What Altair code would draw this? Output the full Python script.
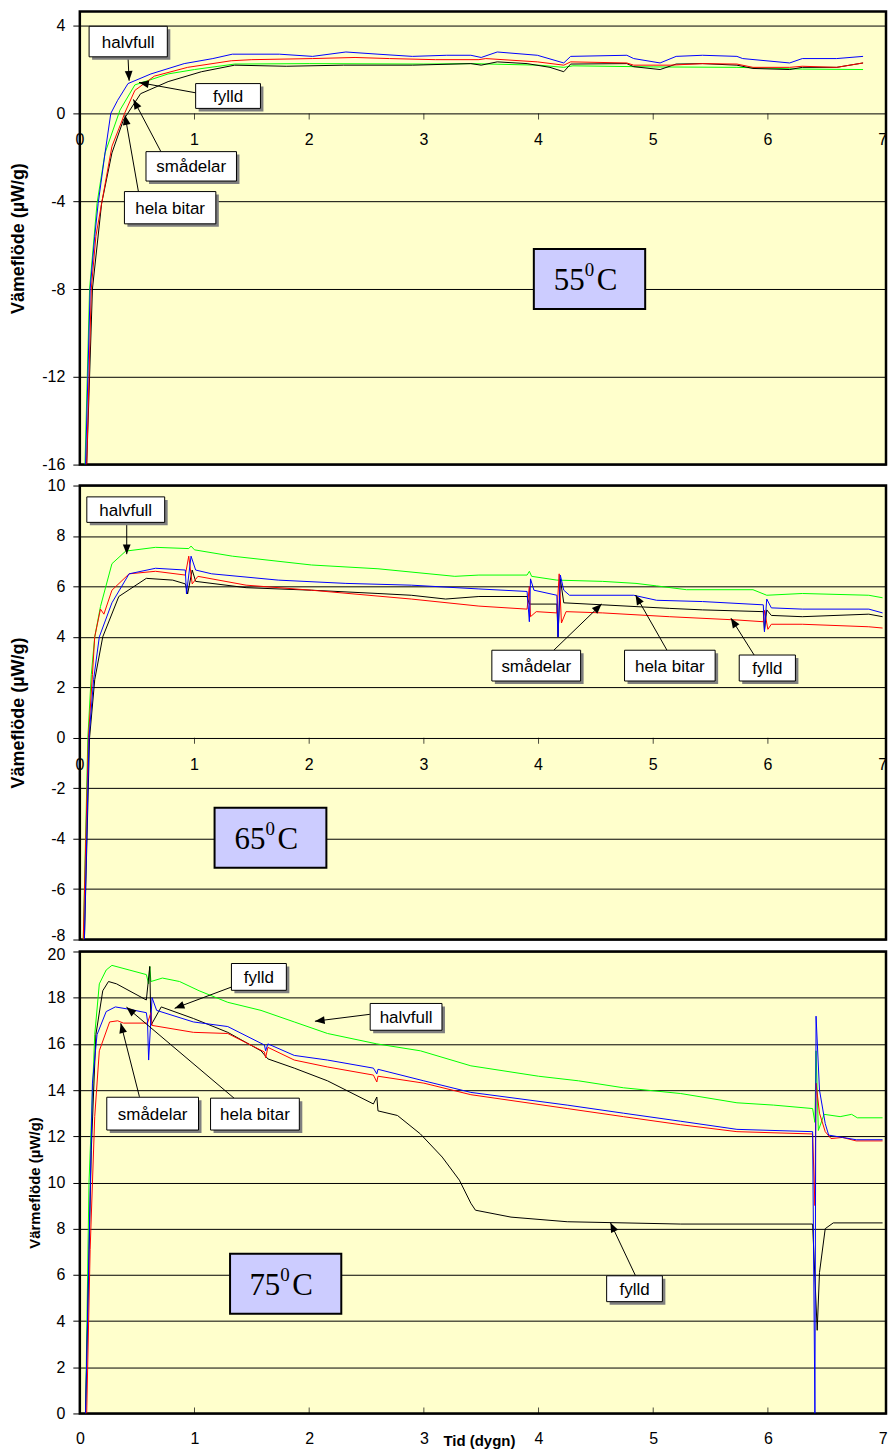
import math
import altair as alt
import pandas as pd

FONT = "Liberation Sans"
SERIF = "Liberation Serif"

X_TICKS = [0, 1, 2, 3, 4, 5, 6, 7]
X_MAX = 7.03
PLOT_W = 808
SERIES = ["halvfull", "fylld", "smådelar", "hela bitar"]

# ---------------- 55 °C ----------------
Y55_TICKS = [-16, -12, -8, -4, 0, 4]
T55_HALVFULL = [(0.045, -16), (0.065, -12), (0.085, -8), (0.15, -4.1), (0.22, -1.8), (0.35, 0.15),
                (0.48, 1.3), (0.77, 1.8), (1.0, 2.0), (1.35, 2.25), (2.0, 2.27), (3.0, 2.25),
                (3.41, 2.27), (4.0, 2.2), (4.22, 2.1), (4.3, 2.17), (5.0, 2.12), (5.73, 2.1),
                (6.3, 2.02), (6.83, 2.0)]
T55_FYLLD = [(0.06, -16), (0.085, -12), (0.11, -8), (0.19, -4.1), (0.28, -1.8), (0.38, -0.3),
             (0.53, 0.9), (0.77, 1.45), (1.06, 1.9), (1.35, 2.2), (1.8, 2.15), (2.3, 2.2),
             (2.9, 2.2), (3.41, 2.27), (3.5, 2.2), (3.64, 2.35), (3.9, 2.27), (4.1, 2.1),
             (4.22, 1.9), (4.28, 2.25), (4.77, 2.27), (4.83, 2.13), (5.06, 2.0), (5.2, 2.25),
             (5.43, 2.27), (5.73, 2.2), (5.87, 2.05), (6.19, 2.0), (6.3, 2.1), (6.6, 2.1),
             (6.83, 2.3)]
T55_SMADELAR = [(0.06, -16), (0.08, -12), (0.1, -8), (0.14, -5.6), (0.19, -4.1), (0.28, -1.5),
                (0.37, -0.3), (0.39, 0.0), (0.48, 1.05), (0.65, 1.7), (0.94, 2.1), (1.32, 2.4),
                (1.5, 2.45), (2.03, 2.5), (2.4, 2.55), (2.7, 2.5), (3.1, 2.45), (3.48, 2.45),
                (3.54, 2.5), (3.99, 2.35), (4.22, 2.2), (4.28, 2.35), (4.77, 2.3), (4.83, 2.2),
                (5.15, 2.2), (5.43, 2.27), (5.73, 2.25), (5.87, 2.1), (6.19, 2.1), (6.3, 2.15),
                (6.6, 2.1), (6.83, 2.3)]
T55_HELA = [(0.05, -16), (0.07, -12), (0.09, -8), (0.13, -5.6), (0.16, -4.1), (0.22, -1.8),
            (0.27, 0.0), (0.33, 0.6), (0.42, 1.36), (0.62, 1.8), (0.91, 2.27), (1.16, 2.5),
            (1.33, 2.7), (1.74, 2.7), (2.03, 2.6), (2.32, 2.8), (2.6, 2.7), (2.9, 2.6),
            (3.2, 2.65), (3.41, 2.65), (3.5, 2.55), (3.64, 2.8), (3.99, 2.65), (4.22, 2.3),
            (4.28, 2.6), (4.77, 2.65), (4.83, 2.5), (5.06, 2.3), (5.2, 2.6), (5.43, 2.65),
            (5.73, 2.6), (5.78, 2.5), (6.19, 2.3), (6.3, 2.5), (6.6, 2.5), (6.83, 2.6)]

# ---------------- 65 °C ----------------
Y65_TICKS = [-8, -6, -4, -2, 0, 2, 4, 6, 8, 10]
T65_HALVFULL = [(0.03, -8), (0.07, 0), (0.1, 2.5), (0.13, 4.0), (0.18, 5.2), (0.28, 6.9),
                (0.40, 7.4), (0.66, 7.55), (0.95, 7.5), (0.97, 7.6), (1.0, 7.45), (1.33, 7.2),
                (2.02, 6.85), (2.6, 6.7), (3.27, 6.4), (3.48, 6.45), (3.9, 6.45), (3.92, 6.6),
                (3.94, 6.4), (4.16, 6.25), (4.56, 6.2), (4.85, 6.12), (5.03, 6.02), (5.29, 5.87),
                (5.87, 5.87), (5.99, 5.65), (6.3, 5.72), (6.88, 5.65), (7.0, 5.55)]
T65_FYLLD = [(0.04, -8), (0.085, 0), (0.13, 2.3), (0.2, 4.0), (0.34, 5.6), (0.58, 6.32),
             (0.81, 6.25), (0.92, 6.1), (0.94, 5.7), (0.98, 6.65), (1.01, 6.2), (1.45, 5.95),
             (2.02, 5.85), (2.6, 5.72), (2.89, 5.65), (3.19, 5.5), (3.48, 5.6), (3.9, 5.6),
             (3.92, 5.3), (4.16, 5.3), (4.17, 4.0), (4.19, 6.3), (4.22, 5.35), (4.56, 5.27),
             (5.14, 5.13), (5.43, 5.07), (5.96, 5.0), (5.97, 4.25), (5.99, 5.07), (6.03, 4.85),
             (6.3, 4.8), (6.88, 4.9), (7.0, 4.8)]
T65_SMADELAR = [(0.03, -8), (0.075, 0), (0.11, 2.5), (0.13, 4.0), (0.18, 5.1), (0.21, 4.9),
                (0.28, 5.85), (0.43, 6.5), (0.66, 6.6), (0.92, 6.45), (0.95, 7.2), (0.98, 6.1),
                (1.03, 6.4), (1.45, 6.05), (2.02, 5.85), (2.89, 5.5), (3.48, 5.22), (3.9, 5.1),
                (3.92, 6.0), (3.93, 4.8), (3.98, 5.0), (4.16, 4.95), (4.18, 6.5), (4.2, 4.55),
                (4.24, 5.0), (4.56, 4.95), (5.14, 4.8), (5.73, 4.67), (5.96, 4.6), (5.97, 5.05),
                (6.0, 4.3), (6.03, 4.5), (6.3, 4.5), (6.88, 4.4), (7.0, 4.35)]
T65_HELA = [(0.04, -8), (0.08, 0), (0.12, 2.3), (0.17, 4.0), (0.28, 5.35), (0.43, 6.5),
            (0.66, 6.72), (0.92, 6.65), (0.93, 5.7), (0.97, 7.2), (1.01, 6.65), (1.15, 6.5),
            (1.73, 6.25), (2.32, 6.12), (2.89, 6.05), (3.48, 5.9), (3.9, 5.8), (3.92, 4.6),
            (3.93, 6.3), (3.96, 5.85), (4.16, 5.65), (4.17, 4.0), (4.19, 6.45), (4.22, 5.85),
            (4.27, 5.65), (4.83, 5.65), (5.03, 5.45), (5.43, 5.4), (5.96, 5.27), (5.97, 4.2),
            (5.99, 5.5), (6.03, 5.15), (6.3, 5.1), (6.88, 5.1), (7.0, 4.95)]

# ---------------- 75 °C ----------------
Y75_TICKS = [0, 2, 4, 6, 8, 10, 12, 14, 16, 18, 20]
T75_HALVFULL = [(0.05, 0), (0.08, 10), (0.13, 16.4), (0.17, 18.6), (0.23, 19.2), (0.28, 19.4),
                (0.43, 19.2), (0.58, 19.0), (0.6, 18.6), (0.61, 19.35), (0.62, 18.7), (0.72, 18.85),
                (0.87, 18.7), (1.04, 18.3), (1.29, 17.8), (1.58, 17.45), (1.87, 16.95), (2.16, 16.45),
                (2.59, 16.0), (2.97, 15.7), (3.41, 15.05), (4.0, 14.6), (4.35, 14.4), (4.74, 14.1),
                (5.24, 13.85), (5.73, 13.45), (6.05, 13.35), (6.39, 13.2), (6.41, 12.6), (6.42, 15.7),
                (6.44, 12.25), (6.49, 12.95), (6.63, 12.85), (6.73, 12.95), (6.78, 12.8), (7.0, 12.8)]
T75_FYLLD = [(0.05, 0), (0.1, 11.4), (0.14, 16.4), (0.2, 18.3), (0.25, 18.7), (0.32, 18.6),
             (0.58, 17.9), (0.61, 19.35), (0.62, 16.8), (0.71, 17.6), (0.99, 17.1), (1.29, 16.5),
             (1.58, 15.7), (1.64, 15.35), (1.87, 14.95), (2.16, 14.4), (2.56, 13.4), (2.59, 13.7),
             (2.6, 13.1), (2.77, 12.9), (2.97, 12.1), (3.16, 11.1), (3.31, 10.1), (3.41, 9.1),
             (3.45, 8.8), (3.76, 8.5), (4.25, 8.3), (5.24, 8.2), (6.39, 8.2), (6.43, 3.6),
             (6.45, 6.1), (6.5, 8.0), (6.57, 8.25), (7.0, 8.25)]
T75_SMADELAR = [(0.06, 0), (0.09, 7.1), (0.13, 12.85), (0.17, 15.7), (0.26, 16.95), (0.33, 17.0),
                (0.38, 16.9), (0.59, 16.9), (0.62, 17.35), (0.63, 16.8), (0.99, 16.5), (1.29, 16.45),
                (1.61, 15.65), (1.62, 15.4), (1.64, 15.85), (1.87, 15.3), (2.16, 15.0), (2.56, 14.65),
                (2.59, 14.35), (2.6, 14.6), (3.0, 14.3), (3.41, 13.8), (4.25, 13.2), (4.74, 12.85),
                (5.24, 12.5), (5.73, 12.2), (6.39, 12.1), (6.41, 9.0), (6.42, 14.3), (6.45, 13.0),
                (6.5, 12.2), (6.55, 11.9), (6.65, 11.95), (6.77, 11.8), (7.0, 11.8)]
T75_HELA = [(0.05, 0), (0.08, 7.1), (0.11, 14.3), (0.15, 16.4), (0.23, 17.4), (0.31, 17.6),
            (0.43, 17.5), (0.58, 17.35), (0.59, 17.0), (0.6, 15.3), (0.63, 18.0), (0.67, 17.45),
            (0.99, 16.95), (1.29, 16.75), (1.61, 15.95), (1.62, 15.7), (1.64, 16.0), (1.87, 15.5),
            (2.16, 15.3), (2.56, 14.95), (2.59, 14.7), (2.6, 14.9), (3.0, 14.4), (3.41, 13.9),
            (4.25, 13.35), (4.74, 13.0), (5.24, 12.65), (5.73, 12.3), (6.39, 12.2), (6.41, 0.0),
            (6.42, 17.2), (6.45, 14.0), (6.5, 12.55), (6.53, 12.05), (6.65, 11.95), (6.77, 11.85),
            (7.0, 11.85)]

# Callouts: text, box x0, x1, y0, y1, arrow start x, y, arrow tip x, y (data units)
CALLOUTS_55 = [
    ("halvfull", 0.081, 0.763, 3.97, 2.58, 0.42, 2.58, 0.43, 1.49),
    ("fylld", 1.01, 1.575, 1.36, 0.23, 1.01, 0.94, 0.516, 1.41),
    ("smådelar", 0.577, 1.366, -1.74, -3.08, 0.707, -1.74, 0.467, 0.64),
    ("hela bitar", 0.389, 1.186, -3.56, -5.03, 0.511, -3.56, 0.394, -0.08),
]
CALLOUTS_65 = [
    ("halvfull", 0.061, 0.74, 9.55, 8.54, 0.409, 8.54, 0.409, 7.28),
    ("smådelar", 3.593, 4.367, 3.47, 2.25, 4.133, 3.47, 4.55, 5.30),
    ("hela bitar", 4.75, 5.54, 3.47, 2.25, 5.12, 3.47, 4.846, 5.66),
    ("fylld", 5.75, 6.24, 3.28, 2.25, 5.88, 3.28, 5.678, 4.74),
]
CALLOUTS_75 = [
    ("fylld", 1.322, 1.801, 19.48, 18.32, 1.322, 18.46, 0.827, 17.54),
    ("halvfull", 2.532, 3.158, 17.75, 16.59, 2.529, 17.28, 2.05, 16.98),
    ("smådelar", 0.235, 1.035, 13.69, 12.27, 0.52, 13.71, 0.357, 16.89),
    ("hela bitar", 1.14, 1.914, 13.65, 12.27, 1.345, 13.65, 0.407, 17.59),
    ("fylld", 4.594, 5.08, 5.96, 4.84, 4.846, 5.96, 4.627, 8.26),
]
# Temperature tag: number, box x0, x1, y0, y1, text centre x, y
TEMP_55 = ("55", 3.959, 4.93, -6.18, -8.91, 4.446, -7.545)
TEMP_65 = ("65", 1.175, 2.15, -2.78, -5.15, 1.662, -3.96)
TEMP_75 = ("75", 1.31, 2.28, 6.91, 4.32, 1.792, 5.62)

COLORS_STD = ["#00FF00", "#000000", "#FF0000", "#0000FF"]
COLORS_65 = ["#00FF00", "#1C1C78", "#FF0000", "#0000FF"]

ARROW_PATH = "M0,0L-0.4,1L0.4,1Z"
# plain hyphen for negative tick labels
LABEL_EXPR = "datum.value < 0 ? '-' + abs(datum.value) : '' + datum.value"


def build_panel(series, colors, y_dom, y_ticks, height, callouts, temp,
                axis_title, title_size, title_x, bottom_axis, edge_label=None):
    rows = []
    for name, pts in zip(SERIES, series):
        for i, (x, y) in enumerate(pts):
            rows.append({"serie": name, "x": x, "y": y, "i": i})
    df = pd.DataFrame(rows)

    xs = alt.Scale(domain=[0, X_MAX], nice=False, zero=False)
    ys = alt.Scale(domain=y_dom, nice=False, zero=False)
    px_x = PLOT_W / X_MAX
    px_y = height / (y_dom[1] - y_dom[0])

    if bottom_axis:
        xaxis = alt.Axis(values=X_TICKS, format="d", ticks=False, domain=False, grid=False,
                         labelPadding=17, labelFlush=False, labelOverlap=False,
                         labelFont=FONT, labelFontSize=16, labelColor="black",
                         title="Tid (dygn)", titleFont=FONT, titleFontSize=15,
                         titleFontWeight="bold", titleColor="black",
                         titleX=400, titleY=27, titleBaseline="middle", titleAlign="center")
    else:
        xaxis = None

    label_offset = 0
    if edge_label is not None:
        label_offset = {"condition": {"test": f"datum.value == {edge_label[0]}",
                                      "value": edge_label[1]}, "value": 0}

    yaxis = alt.Axis(values=y_ticks, labelExpr=LABEL_EXPR, tickSize=7, tickColor="black",
                     tickWidth=1, labelPadding=8, labelFont=FONT, labelFontSize=16,
                     labelColor="black", labelOverlap=False, labelFlush=False,
                     labelOffset=label_offset,
                     grid=True, gridColor="black", gridWidth=1, gridOpacity=1, domain=False,
                     title=axis_title, titleFont=FONT, titleFontSize=title_size,
                     titleFontWeight="bold", titleColor="black", titleAngle=270,
                     titleX=title_x, titleY=height / 2, titleBaseline="middle",
                     titleAlign="center")

    def X(field):
        return alt.X(field, type="quantitative", scale=xs, axis=xaxis)

    def Y(field):
        return alt.Y(field, type="quantitative", scale=ys, axis=yaxis)

    lines = alt.Chart(df).mark_line(strokeWidth=1, clip=True).encode(
        x=X("x"), y=Y("y"),
        color=alt.Color("serie:N", scale=alt.Scale(domain=SERIES, range=colors), legend=None),
        detail="serie:N",
        order="i:Q",
    )

    layers = [lines]

    tick_df = pd.DataFrame({"x": X_TICKS[1:-1], "y": [y_dom[0] if bottom_axis else 0] * 6})
    layers.append(alt.Chart(tick_df).mark_tick(orient="vertical", size=6, thickness=1,
                                               color="black",
                                               yOffset=-3 if bottom_axis else 3).encode(
        x=X("x"), y=Y("y")))
    if not bottom_axis:
        lab_df = pd.DataFrame({"x": X_TICKS, "y": [0] * len(X_TICKS),
                               "t": [str(v) for v in X_TICKS]})
        layers.append(alt.Chart(lab_df).mark_text(font=FONT, fontSize=16, color="black",
                                                  baseline="middle", align="center", dy=27).encode(
            x=X("x"), y=Y("y"), text="t:N"))

    cdf = pd.DataFrame([
        {"t": c[0], "x0": c[1], "x1": c[2], "y0": c[3], "y1": c[4],
         "cx": (c[1] + c[2]) / 2, "cy": (c[3] + c[4]) / 2,
         "sx": c[5], "sy": c[6], "tx": c[7], "ty": c[8],
         "ang": math.degrees(math.atan2((c[7] - c[5]) * px_x, (c[8] - c[6]) * px_y)) % 360}
        for c in callouts])
    base = alt.Chart(cdf)
    layers.append(base.mark_rule(color="black", strokeWidth=1).encode(
        x=X("sx"), y=Y("sy"), x2="tx:Q", y2="ty:Q"))
    layers.append(base.mark_point(shape=ARROW_PATH, filled=True, color="black", size=380,
                                  opacity=1, strokeWidth=0).encode(
        x=X("tx"), y=Y("ty"), angle=alt.Angle("ang:Q", scale=None)))
    layers.append(base.mark_rect(fill="#7F7F7F", xOffset=3, x2Offset=3, yOffset=3,
                                 y2Offset=3).encode(x=X("x0"), y=Y("y0"), x2="x1:Q", y2="y1:Q"))
    layers.append(base.mark_rect(fill="white", stroke="black", strokeWidth=1).encode(
        x=X("x0"), y=Y("y0"), x2="x1:Q", y2="y1:Q"))
    layers.append(base.mark_text(font=FONT, fontSize=17, color="black", align="center",
                                 baseline="middle", dy=1).encode(
        x=X("cx"), y=Y("cy"), text="t:N"))

    tdf = pd.DataFrame([{"t": temp[0], "x0": temp[1], "x1": temp[2], "y0": temp[3],
                         "y1": temp[4], "cx": temp[5], "cy": temp[6], "sup": "0", "c": "C"}])
    tbase = alt.Chart(tdf)
    layers.append(tbase.mark_rect(fill="#CCCCFF", stroke="black", strokeWidth=2).encode(
        x=X("x0"), y=Y("y0"), x2="x1:Q", y2="y1:Q"))
    layers.append(tbase.mark_text(font=SERIF, fontSize=31, color="black", align="right",
                                  baseline="alphabetic", dx=-5, dy=11).encode(
        x=X("cx"), y=Y("cy"), text="t:N"))
    layers.append(tbase.mark_text(font=SERIF, fontSize=19, color="black", align="left",
                                  baseline="alphabetic", dx=-5, dy=-3).encode(
        x=X("cx"), y=Y("cy"), text="sup:N"))
    layers.append(tbase.mark_text(font=SERIF, fontSize=31, color="black", align="left",
                                  baseline="alphabetic", dx=7, dy=11).encode(
        x=X("cx"), y=Y("cy"), text="c:N"))

    return alt.layer(*layers).properties(width=PLOT_W, height=height)


p55 = build_panel([T55_HALVFULL, T55_FYLLD, T55_SMADELAR, T55_HELA], COLORS_STD,
                  [-16, 4.64], Y55_TICKS, 454, CALLOUTS_55, TEMP_55,
                  "Vämeflöde (µW/g)", 18, -61, False)
p65 = build_panel([T65_HALVFULL, T65_FYLLD, T65_SMADELAR, T65_HELA], COLORS_65,
                  [-8, 10], Y65_TICKS, 455, CALLOUTS_65, TEMP_65,
                  "Vämeflöde (µW/g)", 18, -61, False, edge_label=(-8, -4))
p75 = build_panel([T75_HALVFULL, T75_FYLLD, T75_SMADELAR, T75_HELA], COLORS_STD,
                  [0, 20], Y75_TICKS, 463, CALLOUTS_75, TEMP_75,
                  "Värmeflöde (µW/g)", 15, -45, True, edge_label=(20, 3))

chart = alt.vconcat(
    p55,
    alt.vconcat(p65, p75, spacing=12, bounds="flush"),
    spacing=21, bounds="flush",
).properties(
    background="white",
    padding={"left": 8, "top": 8, "right": 0, "bottom": 0},
).configure_view(fill="#FFFFCC", stroke="black", strokeWidth=2.5)

chart.save("out.html", embed_options={"renderer": "svg", "actions": False})
